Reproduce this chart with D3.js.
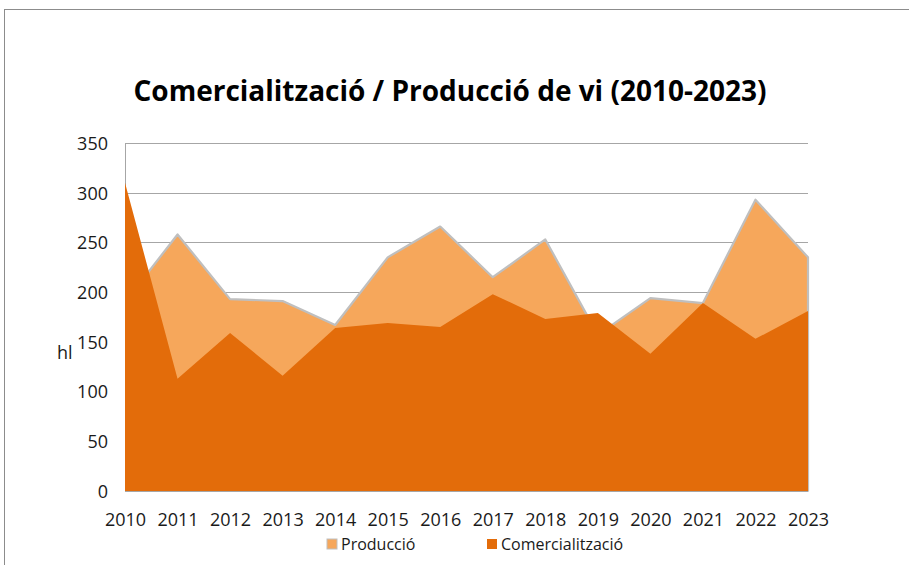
<!DOCTYPE html>
<html>
<head>
<meta charset="utf-8">
<script src="https://cdn.jsdelivr.net/npm/d3@7"></script>
<style>
  body { margin: 0; background: #fff; }
  svg { display: block; font-family: "Open Sans", "Noto Sans", sans-serif; }
</style>
</head>
<body>
<svg id="chart"></svg>
<script>
// data
const years = [2010, 2011, 2012, 2013, 2014, 2015, 2016, 2017, 2018, 2019, 2020, 2021, 2022, 2023];
const produccio = [190, 258, 193, 191, 167, 235, 266, 215, 253, 157, 194, 189, 293, 235];
const comercialitzacio = [310, 113, 159, 116, 164, 169, 165, 198, 173, 179, 138, 189, 153, 181];
const yTicks = [0, 50, 100, 150, 200, 250, 300, 350];

const width = 909, height = 565;
const svg = d3.select("#chart").attr("width", width).attr("height", height);

// outer frame
svg.append("rect")
  .attr("x", 4.5).attr("y", 9.5)
  .attr("width", width).attr("height", height)
  .attr("fill", "none").attr("stroke", "#8c8c8c");

// title
svg.append("text")
  .attr("x", 450).attr("y", 101)
  .attr("text-anchor", "middle")
  .attr("font-size", 28).attr("font-weight", "bold")
  .attr("fill", "#000")
  .text("Comercialització / Producció de vi (2010-2023)");

const x = d3.scalePoint().domain(years).range([125, 808]);
const y = d3.scaleLinear().domain([0, 350]).range([491, 143]);

svg.append("defs").append("clipPath").attr("id", "plot")
  .append("rect").attr("x", 125).attr("y", 130).attr("width", 685).attr("height", 361);

// gridlines
svg.append("g")
  .selectAll("line")
  .data(yTicks)
  .enter().append("line")
  .attr("x1", 125).attr("x2", 808)
  .attr("y1", d => Math.round(y(d)) + 0.5).attr("y2", d => Math.round(y(d)) + 0.5)
  .attr("stroke", "#a6a6a6").attr("stroke-width", 1);

// y axis line
svg.append("line")
  .attr("x1", 125.5).attr("x2", 125.5)
  .attr("y1", 143).attr("y2", 491)
  .attr("stroke", "#a6a6a6");

const area = vals => d3.area()
  .x((d, i) => x(years[i]))
  .y0(y(0))
  .y1(d => y(d))(vals);

const plot = svg.append("g").attr("clip-path", "url(#plot)");

// Producció (back), outlined in grey like the source
plot.append("path")
  .attr("d", area(produccio) + "Z")
  .attr("fill", "#f6a75b")
  .attr("stroke", "#bfbfbf").attr("stroke-width", 2.2)
  .attr("stroke-linejoin", "round");

// Comercialització (front)
plot.append("path")
  .attr("d", area(comercialitzacio))
  .attr("fill", "#e36c0a");

// axes labels
const axisY = svg.append("g")
  .attr("transform", "translate(108,0)")
  .call(d3.axisLeft(y).tickValues(yTicks).tickSize(0).tickPadding(0));
axisY.select(".domain").remove();
axisY.selectAll("text")
  .attr("font-size", 18).attr("fill", "#1a1a1a")
  .attr("font-family", "Open Sans, Noto Sans, sans-serif")
  .attr("dy", "0.35em");

const axisX = svg.append("g")
  .attr("transform", "translate(0,491)")
  .call(d3.axisBottom(x).tickSize(0).tickPadding(0));
axisX.select(".domain").attr("stroke", "#a6a6a6");
axisX.selectAll("text")
  .attr("font-size", 18).attr("fill", "#1a1a1a")
  .attr("font-family", "Open Sans, Noto Sans, sans-serif")
  .attr("dy", null)
  .attr("y", 35);

svg.append("text")
  .attr("x", 57).attr("y", 359)
  .attr("font-size", 18).attr("fill", "#1a1a1a")
  .text("hl");

// legend
const legend = [
  { name: "Producció", color: "#f6a75b", stroke: "#bfbfbf", x: 327 },
  { name: "Comercialització", color: "#e36c0a", stroke: "none", x: 487 }
];
const lg = svg.append("g").selectAll("g").data(legend).enter().append("g");
lg.append("rect")
  .attr("x", d => d.x).attr("y", 539)
  .attr("width", 10).attr("height", 10)
  .attr("fill", d => d.color)
  .attr("stroke", d => d.stroke);
lg.append("text")
  .attr("x", d => d.x + 14).attr("y", 550)
  .attr("font-size", 16).attr("fill", "#1a1a1a")
  .text(d => d.name);
</script>
</body>
</html>
